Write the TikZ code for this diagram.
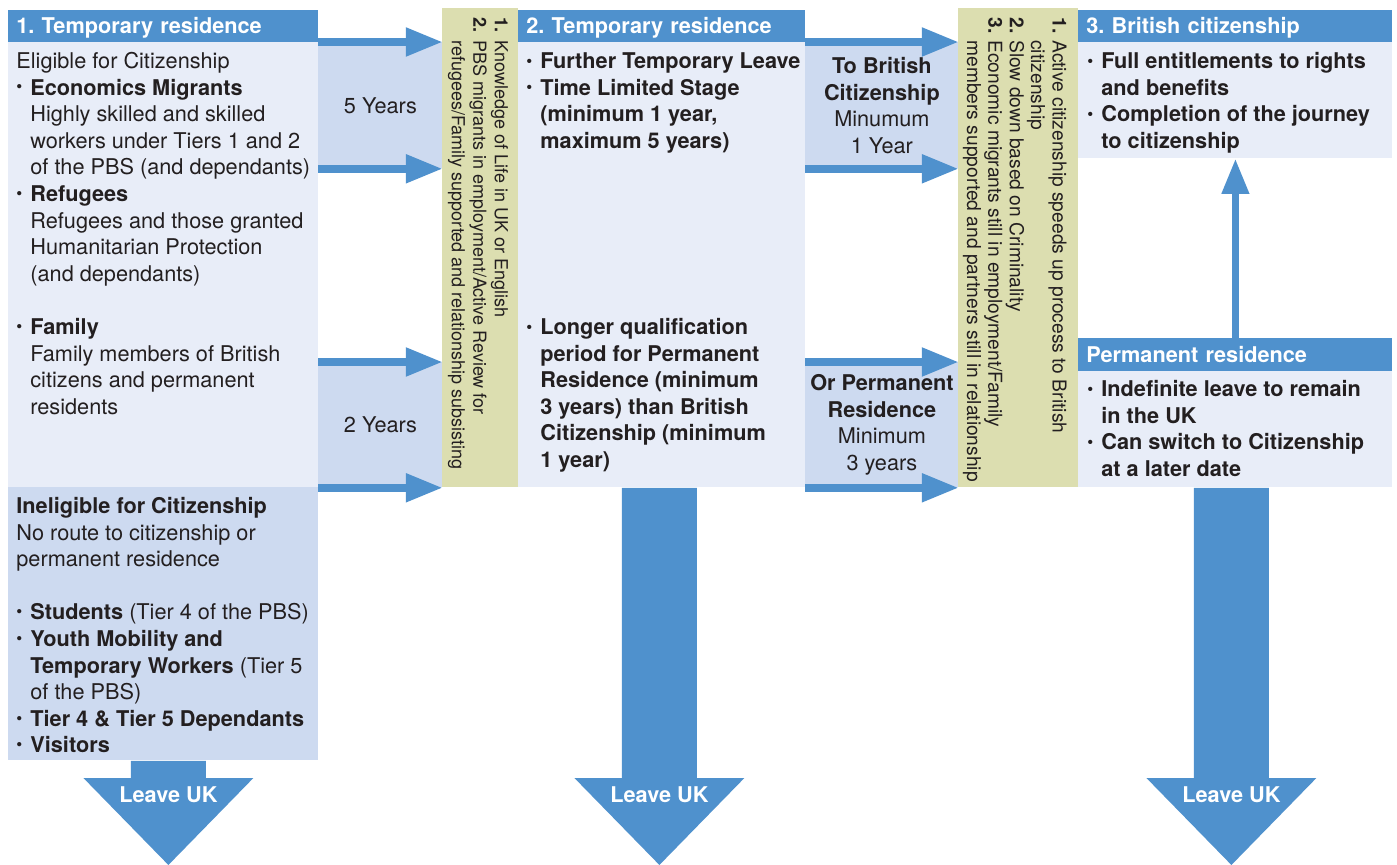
\documentclass[tikz,border=0pt]{standalone}
\usepackage{fontspec}
\setmainfont{TeX Gyre Heros}
\usetikzlibrary{arrows.meta,calc}
\frenchspacing

\definecolor{headblue}{HTML}{4F91CD}
\definecolor{paleblue}{HTML}{E8EDF8}
\definecolor{midblue}{HTML}{CDDAF0}
\definecolor{olive}{HTML}{DCDEB0}
\definecolor{ink}{HTML}{231F20}

\newcommand{\mainsize}{\fontsize{10.85}{13.3}\selectfont}
\newcommand{\stripsize}{\fontsize{9}{10.8}\selectfont}
\newcommand{\stripsizeb}{\fontsize{9.6}{10.7}\selectfont}
\newcommand{\bul}{\makebox[7pt][l]{\raisebox{1.1pt}{\fontsize{8.5}{8.5}\selectfont •}}}
\newcommand{\ind}{\hspace*{7pt}}
\newcommand{\stepnum}[1]{\makebox[11.5pt][l]{\textbf{#1}}}
\newcommand{\stepind}{\hspace*{11.5pt}}

\tikzset{
  panel/.style={anchor=north west, inner sep=0pt},
  headbar/.style={panel, fill=headblue, text=white, font=\mainsize\bfseries,
    inner xsep=4pt, minimum height=16pt, text height=8.6pt, text depth=1.4pt, align=left},
  band/.style={panel, fill=midblue, text=ink, font=\mainsize, align=center},
  strip/.style={panel, fill=olive, minimum width=#1, minimum height=239.5pt},
  txt/.style={anchor=north west, inner sep=0pt, align=left, font=\mainsize, text=ink},
  striptxt/.style={txt, font=\stripsize, rotate=-90},
  flow/.style={draw=headblue, line width=4pt, -{Triangle[length=18.5pt,width=13.5pt]}},
  uparrow/.style={draw=headblue, line width=3.5pt, -{Triangle[length=17.5pt,width=13pt]}},
  leavetxt/.style={text=white, font=\mainsize\bfseries, inner sep=0pt}
}

\begin{document}
\begin{tikzpicture}[x=0.5pt,y=-0.5pt]
\useasboundingbox (0,0) rectangle (1397,865);

% first column
\node[headbar, text width=147pt] (h1) at (8,10) {1. Temporary residence};
\node[panel, fill=paleblue, minimum width=155pt, minimum height=222.5pt] (p1body) at (8,42) {};
\node[panel, fill=midblue, minimum width=155pt, minimum height=136.5pt] (inel) at (8,487) {};

% bands with the waiting times
\node[band, minimum width=62pt, minimum height=63pt] (band5) at (318,42) {5 Years};
\node[band, minimum width=62pt, minimum height=62.5pt] (band2) at (318,362) {2 Years};
\node[strip=38pt] (strip1) at (442,8) {};

% second column
\node[headbar, text width=135.5pt] (h2) at (518,10) {2. Temporary residence};
\node[panel, fill=paleblue, minimum width=143.5pt, minimum height=222.5pt] (p2body) at (518,42) {};

\node[band, minimum width=76.5pt, minimum height=63pt] (bandcit) at (805,42)
  {\textbf{To British}\\\textbf{Citizenship}\\Minumum\\1 Year};
\node[band, minimum width=76.5pt, minimum height=62.5pt] (bandperm) at (805,362)
  {\textbf{Or Permanent}\\\textbf{Residence}\\Minimum\\3 years};
\node[strip=60pt] (strip2) at (958,8) {};

% third column
\node[headbar, text width=149pt] (h3) at (1078,10) {3. British citizenship};
\node[panel, fill=paleblue, minimum width=157pt, minimum height=58pt] (p3body) at (1078,42) {};
\node[headbar, text width=149pt, minimum height=16.5pt] (permhead) at (1078,338) {Permanent residence};
\node[panel, fill=paleblue, minimum width=157pt, minimum height=58pt] (permbody) at (1078,371) {};

% arrows
\draw[flow] (band5.north west) -- (band5.north east);
\draw[flow] (band5.south west) -- (band5.south east);
\draw[flow] (band2.north west) -- (band2.north east);
\draw[flow] (band2.south west) -- (band2.south east);
\draw[flow] (bandcit.north west) -- (bandcit.north east);
\draw[flow] (bandcit.south west) -- (bandcit.south east);
\draw[flow] (bandperm.north west) -- (bandperm.north east);
\draw[flow] (bandperm.south west) -- (bandperm.south east);
\draw[uparrow] (permhead.north) -- (p3body.south);

\coordinate (leavebase) at (0,778);
\foreach \src/\dx in {inel/5, p2body/-2.5, permbody/-4} {
  \coordinate (top-\src) at ($(\src.south)+(\dx,0)$);
  \coordinate (head-\src) at (top-\src |- leavebase);
  \fill[headblue] ($(top-\src)+(-37.5,0)$) -- ($(head-\src)+(-37.5,0)$) -- ($(head-\src)+(-85,0)$)
    -- ($(head-\src)+(0,87)$) -- ($(head-\src)+(85,0)$) -- ($(head-\src)+(37.5,0)$)
    -- ($(top-\src)+(37.5,0)$) -- cycle;
  \node[leavetxt] (leave-\src) at ($(head-\src)+(0,17)$) {Leave UK};
}

% texts
\node[txt] (eligtxt) at (16,49.4) {\strut Eligible for Citizenship\\
  \bul\textbf{Economics Migrants}\\
  \ind Highly skilled and skilled\\
  \ind workers under Tiers 1 and 2\\
  \ind of the PBS (and dependants)\\
  \bul\textbf{Refugees}\\
  \ind Refugees and those granted\\
  \ind Humanitarian Protection\\
  \ind (and dependants)\\[13.3pt]
  \bul\textbf{Family}\\
  \ind Family members of British\\
  \ind citizens and permanent\\
  \ind residents};
\node[txt] (ineltxt) at (16,494.4) {\strut\textbf{Ineligible for Citizenship}\\
  No route to citizenship or\\
  permanent residence\\[13.3pt]
  \bul\textbf{Students} (Tier 4 of the PBS)\\
  \bul\textbf{Youth Mobility and}\\
  \ind\textbf{Temporary Workers} (Tier 5\\
  \ind of the PBS)\\
  \bul\textbf{Tier 4 \& Tier 5 Dependants}\\
  \bul\textbf{Visitors}};
\node[txt, font=\mainsize\bfseries] (p2txt) at (526,49.4) {\strut\bul Further Temporary Leave\\
  \bul Time Limited Stage\\
  \ind(minimum 1 year,\\
  \ind maximum 5 years)\\[79.8pt]
  \bul Longer qualification\\
  \ind period for Permanent\\
  \ind Residence (minimum\\
  \ind 3 years) than British\\
  \ind Citizenship (minimum\\
  \ind 1 year)};
\node[txt, font=\mainsize\bfseries] (p3txt) at (1087,49.4) {\strut\bul Full entitlements to rights\\
  \ind and benefits\\
  \bul Completion of the journey\\
  \ind to citizenship};
\node[txt, font=\mainsize\bfseries] (permtxt) at (1087,377.4) {\strut\bul Indefinite leave to remain\\
  \ind in the UK\\
  \bul Can switch to Citizenship\\
  \ind at a later date};

\node[striptxt] (strip1txt) at (510.5,17) {\strut\stepnum{1.}Knowledge of Life in UK or English\\
  \stepnum{2.}PBS migrants in employment/Active Review for\\
  \stepind refugees/Family supported and relationship subsisting};
\node[striptxt, font=\stripsizeb] (strip2txt) at (1068,17) {\strut\stepnum{1.}Active citizenship speeds up process to British\\
  \stepind citizenship\\
  \stepnum{2.}Slow down based on Criminality\\
  \stepnum{3.}Economic migrants still in employment/Family\\
  \stepind members supported and partners still in relationship};
\end{tikzpicture}
\end{document}
